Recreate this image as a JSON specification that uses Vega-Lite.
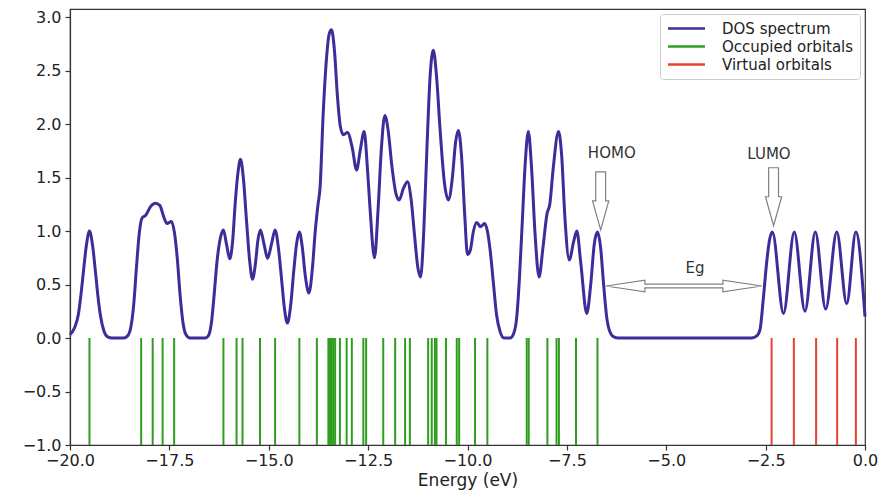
{
  "$schema": "https://vega.github.io/schema/vega-lite/v6.json",
  "width": 795,
  "height": 436,
  "autosize": "none",
  "padding": {"left": 70, "top": 9, "right": 15, "bottom": 45},
  "background": "white",
  "config": {
    "font": "DejaVu Sans",
    "view": {"stroke": "#333", "strokeWidth": 1.2},
    "axis": {
      "domainColor": "#333", "domainWidth": 1.2, "tickColor": "#333", "tickSize": 5, "tickWidth": 1.2,
      "labelFont": "DejaVu Sans", "labelFontSize": 16, "labelColor": "#222",
      "titleFont": "DejaVu Sans", "titleFontSize": 17, "titleFontWeight": "normal", "titleColor": "#222",
      "grid": false, "labelFlush": false, "labelOverlap": false
    },
    "legend": {"labelFont": "DejaVu Sans"}
  },
  "datasets": {
    "dos": [
      {"E": -20, "D": 0.03}, {"E": -19.88, "D": 0.1}, {"E": -19.79, "D": 0.22}, {"E": -19.72, "D": 0.42},
      {"E": -19.66, "D": 0.63}, {"E": -19.59, "D": 0.86}, {"E": -19.51, "D": 1.0}, {"E": -19.43, "D": 0.86},
      {"E": -19.36, "D": 0.62}, {"E": -19.3, "D": 0.4}, {"E": -19.23, "D": 0.2}, {"E": -19.15, "D": 0.07},
      {"E": -19.05, "D": 0.01}, {"E": -18.95, "D": 0.0}, {"E": -18.65, "D": 0.0}, {"E": -18.55, "D": 0.02},
      {"E": -18.47, "D": 0.1}, {"E": -18.4, "D": 0.3}, {"E": -18.33, "D": 0.65}, {"E": -18.26, "D": 0.97},
      {"E": -18.19, "D": 1.12}, {"E": -18.09, "D": 1.15}, {"E": -17.97, "D": 1.23}, {"E": -17.85, "D": 1.26},
      {"E": -17.74, "D": 1.24}, {"E": -17.64, "D": 1.13}, {"E": -17.56, "D": 1.07}, {"E": -17.45, "D": 1.09},
      {"E": -17.37, "D": 0.98}, {"E": -17.3, "D": 0.74}, {"E": -17.23, "D": 0.4}, {"E": -17.16, "D": 0.15},
      {"E": -17.08, "D": 0.03}, {"E": -16.98, "D": 0.0}, {"E": -16.6, "D": 0.0}, {"E": -16.52, "D": 0.02},
      {"E": -16.44, "D": 0.15}, {"E": -16.37, "D": 0.42}, {"E": -16.3, "D": 0.72}, {"E": -16.22, "D": 0.93},
      {"E": -16.14, "D": 1.01}, {"E": -16.06, "D": 0.87}, {"E": -15.98, "D": 0.74}, {"E": -15.91, "D": 0.9},
      {"E": -15.84, "D": 1.28}, {"E": -15.77, "D": 1.56}, {"E": -15.71, "D": 1.67}, {"E": -15.64, "D": 1.5},
      {"E": -15.56, "D": 1.1}, {"E": -15.48, "D": 0.72}, {"E": -15.41, "D": 0.55}, {"E": -15.34, "D": 0.68},
      {"E": -15.27, "D": 0.92}, {"E": -15.21, "D": 1.01}, {"E": -15.12, "D": 0.88}, {"E": -15.03, "D": 0.745},
      {"E": -14.93, "D": 0.88}, {"E": -14.84, "D": 1.01}, {"E": -14.75, "D": 0.82}, {"E": -14.67, "D": 0.52},
      {"E": -14.6, "D": 0.26}, {"E": -14.53, "D": 0.14}, {"E": -14.45, "D": 0.3}, {"E": -14.37, "D": 0.63},
      {"E": -14.3, "D": 0.88}, {"E": -14.23, "D": 0.99}, {"E": -14.16, "D": 0.86}, {"E": -14.08, "D": 0.58},
      {"E": -13.99, "D": 0.42}, {"E": -13.9, "D": 0.66}, {"E": -13.83, "D": 1.0}, {"E": -13.76, "D": 1.25},
      {"E": -13.71, "D": 1.4}, {"E": -13.63, "D": 2.1}, {"E": -13.55, "D": 2.6}, {"E": -13.48, "D": 2.84},
      {"E": -13.42, "D": 2.88}, {"E": -13.35, "D": 2.7}, {"E": -13.27, "D": 2.25}, {"E": -13.2, "D": 1.98},
      {"E": -13.12, "D": 1.9}, {"E": -13.02, "D": 1.92}, {"E": -12.9, "D": 1.78}, {"E": -12.79, "D": 1.57},
      {"E": -12.7, "D": 1.75}, {"E": -12.6, "D": 1.93}, {"E": -12.52, "D": 1.6}, {"E": -12.45, "D": 1.2},
      {"E": -12.34, "D": 0.75}, {"E": -12.25, "D": 1.2}, {"E": -12.17, "D": 1.75}, {"E": -12.08, "D": 2.08},
      {"E": -12.0, "D": 1.95}, {"E": -11.9, "D": 1.6}, {"E": -11.8, "D": 1.35}, {"E": -11.72, "D": 1.29},
      {"E": -11.61, "D": 1.4}, {"E": -11.51, "D": 1.46}, {"E": -11.42, "D": 1.3}, {"E": -11.33, "D": 0.95},
      {"E": -11.25, "D": 0.66}, {"E": -11.18, "D": 0.57}, {"E": -11.1, "D": 1.0}, {"E": -11.02, "D": 1.78},
      {"E": -10.94, "D": 2.45}, {"E": -10.86, "D": 2.69}, {"E": -10.78, "D": 2.45}, {"E": -10.69, "D": 1.95},
      {"E": -10.58, "D": 1.45}, {"E": -10.48, "D": 1.29}, {"E": -10.38, "D": 1.5}, {"E": -10.3, "D": 1.83},
      {"E": -10.23, "D": 1.94}, {"E": -10.15, "D": 1.7}, {"E": -10.07, "D": 1.15}, {"E": -10.0, "D": 0.78},
      {"E": -9.93, "D": 0.82}, {"E": -9.85, "D": 1.0}, {"E": -9.77, "D": 1.08}, {"E": -9.67, "D": 1.04},
      {"E": -9.57, "D": 1.07}, {"E": -9.5, "D": 1.0}, {"E": -9.43, "D": 0.82}, {"E": -9.35, "D": 0.52},
      {"E": -9.27, "D": 0.22}, {"E": -9.18, "D": 0.06}, {"E": -9.08, "D": 0.0}, {"E": -8.93, "D": 0.0},
      {"E": -8.84, "D": 0.04}, {"E": -8.76, "D": 0.2}, {"E": -8.69, "D": 0.58}, {"E": -8.62, "D": 1.1},
      {"E": -8.55, "D": 1.62}, {"E": -8.47, "D": 1.93}, {"E": -8.39, "D": 1.6}, {"E": -8.3, "D": 0.97},
      {"E": -8.2, "D": 0.57}, {"E": -8.1, "D": 0.85}, {"E": -8.0, "D": 1.16}, {"E": -7.93, "D": 1.25},
      {"E": -7.84, "D": 1.6}, {"E": -7.71, "D": 1.93}, {"E": -7.63, "D": 1.7}, {"E": -7.55, "D": 1.13},
      {"E": -7.44, "D": 0.73}, {"E": -7.33, "D": 0.9}, {"E": -7.25, "D": 1.0}, {"E": -7.15, "D": 0.7},
      {"E": -7.0, "D": 0.23}, {"E": -6.9, "D": 0.5}, {"E": -6.81, "D": 0.88}, {"E": -6.73, "D": 0.99},
      {"E": -6.65, "D": 0.84}, {"E": -6.58, "D": 0.52}, {"E": -6.5, "D": 0.2}, {"E": -6.42, "D": 0.06},
      {"E": -6.32, "D": 0.01}, {"E": -6.2, "D": 0.0}, {"E": -2.85, "D": 0.0}, {"E": -2.72, "D": 0.02},
      {"E": -2.64, "D": 0.08}, {"E": -2.56, "D": 0.36}, {"E": -2.47, "D": 0.72}, {"E": -2.4, "D": 0.92},
      {"E": -2.33, "D": 0.99}, {"E": -2.05, "D": 0.23}, {"E": -1.78, "D": 0.99}, {"E": -1.51, "D": 0.25},
      {"E": -1.25, "D": 0.99}, {"E": -0.99, "D": 0.27}, {"E": -0.71, "D": 0.99}, {"E": -0.46, "D": 0.32},
      {"E": -0.23, "D": 0.99}, {"E": 0, "D": 0.2}
    ],
    "orb": [
      {"E": -19.51, "series": "Occupied orbitals"}, {"E": -18.21, "series": "Occupied orbitals"},
      {"E": -17.92, "series": "Occupied orbitals"}, {"E": -17.67, "series": "Occupied orbitals"},
      {"E": -17.38, "series": "Occupied orbitals"}, {"E": -16.14, "series": "Occupied orbitals"},
      {"E": -15.81, "series": "Occupied orbitals"}, {"E": -15.66, "series": "Occupied orbitals"},
      {"E": -15.22, "series": "Occupied orbitals"}, {"E": -14.84, "series": "Occupied orbitals"},
      {"E": -14.23, "series": "Occupied orbitals"}, {"E": -13.79, "series": "Occupied orbitals"},
      {"E": -13.5, "series": "Occupied orbitals"}, {"E": -13.46, "series": "Occupied orbitals"},
      {"E": -13.42, "series": "Occupied orbitals"}, {"E": -13.38, "series": "Occupied orbitals"},
      {"E": -13.33, "series": "Occupied orbitals"}, {"E": -13.21, "series": "Occupied orbitals"},
      {"E": -13.04, "series": "Occupied orbitals"}, {"E": -12.91, "series": "Occupied orbitals"},
      {"E": -12.62, "series": "Occupied orbitals"}, {"E": -12.55, "series": "Occupied orbitals"},
      {"E": -12.12, "series": "Occupied orbitals"}, {"E": -11.82, "series": "Occupied orbitals"},
      {"E": -11.57, "series": "Occupied orbitals"}, {"E": -11.45, "series": "Occupied orbitals"},
      {"E": -10.99, "series": "Occupied orbitals"}, {"E": -10.9, "series": "Occupied orbitals"},
      {"E": -10.82, "series": "Occupied orbitals"}, {"E": -10.78, "series": "Occupied orbitals"},
      {"E": -10.54, "series": "Occupied orbitals"}, {"E": -10.27, "series": "Occupied orbitals"},
      {"E": -10.21, "series": "Occupied orbitals"}, {"E": -9.81, "series": "Occupied orbitals"},
      {"E": -9.5, "series": "Occupied orbitals"}, {"E": -8.51, "series": "Occupied orbitals"},
      {"E": -8.46, "series": "Occupied orbitals"}, {"E": -7.99, "series": "Occupied orbitals"},
      {"E": -7.76, "series": "Occupied orbitals"}, {"E": -7.7, "series": "Occupied orbitals"},
      {"E": -7.27, "series": "Occupied orbitals"}, {"E": -6.73, "series": "Occupied orbitals"},
      {"E": -2.35, "series": "Virtual orbitals"}, {"E": -1.79, "series": "Virtual orbitals"},
      {"E": -1.23, "series": "Virtual orbitals"}, {"E": -0.7, "series": "Virtual orbitals"},
      {"E": -0.23, "series": "Virtual orbitals"}
    ],
    "labels": [
      {"E": -6.37, "v": 1.726, "text": "HOMO"},
      {"E": -2.415, "v": 1.72, "text": "LUMO"},
      {"E": -4.277, "v": 0.65, "text": "Eg"}
    ],
    "downArrows": [
      {"E": -6.65, "v": 1.282, "name": "HOMO"},
      {"E": -2.3, "v": 1.32, "name": "LUMO"}
    ],
    "gapArrow": [
      {"E": -4.556, "v": 0.486, "name": "Eg"}
    ]
  },
  "layer": [
    {
      "data": {"name": "orb"},
      "mark": {"type": "rule", "strokeWidth": 2},
      "encoding": {
        "x": {
          "field": "E", "type": "quantitative",
          "scale": {"domain": [-20, 0], "nice": false, "zero": false},
          "axis": {"values": [-20, -17.5, -15, -12.5, -10, -7.5, -5, -2.5, 0], "format": ".1f", "title": "Energy (eV)", "labelPadding": 2, "titlePadding": 4}
        },
        "y": {
          "datum": 0, "type": "quantitative",
          "scale": {"domain": [-1, 3.075], "nice": false, "zero": false},
          "axis": {"values": [-1, -0.5, 0, 0.5, 1, 1.5, 2, 2.5, 3], "format": ".1f", "title": null, "labelPadding": 4}
        },
        "y2": {"datum": -1},
        "color": {
          "field": "series", "type": "nominal",
          "scale": {"domain": ["DOS spectrum", "Occupied orbitals", "Virtual orbitals"], "range": ["#3b2e9a", "#2f9e1f", "#e8412c"]},
          "legend": {
            "title": null, "orient": "top-right", "offset": 5, "symbolType": "M-2.64,0L2.64,0", "symbolSize": 196,
            "symbolOffset": 12, "symbolStrokeWidth": 2.5, "labelFontSize": 15, "labelColor": "#222", "labelOffset": 27,
            "strokeColor": "#cccccc", "fillColor": "white", "padding": 6, "rowPadding": 1, "cornerRadius": 3
          }
        }
      }
    },
    {
      "data": {"name": "dos"},
      "mark": {"type": "line", "interpolate": "monotone", "strokeWidth": 3},
      "encoding": {
        "x": {"field": "E", "type": "quantitative"},
        "y": {"field": "D", "type": "quantitative"},
        "color": {"datum": "DOS spectrum"}
      }
    },
    {
      "data": {"name": "downArrows"},
      "mark": {"type": "point", "shape": "M-0.17,-1L0.17,-1L0.17,0L0.28,0L0,1L-0.28,0L-0.17,0Z", "size": 3364, "filled": true, "fill": "white", "stroke": "#808080", "strokeWidth": 1.2, "opacity": 1},
      "encoding": {
        "x": {"field": "E", "type": "quantitative"},
        "y": {"field": "v", "type": "quantitative"}
      }
    },
    {
      "data": {"name": "gapArrow"},
      "mark": {"type": "point", "shape": "M-1,0L-0.5,-0.075L-0.5,-0.025L0.5,-0.025L0.5,-0.075L1,0L0.5,0.075L0.5,0.025L-0.5,0.025L-0.5,0.075Z", "size": 24336, "filled": true, "fill": "white", "stroke": "#808080", "strokeWidth": 1.2, "opacity": 1},
      "encoding": {
        "x": {"field": "E", "type": "quantitative"},
        "y": {"field": "v", "type": "quantitative"}
      }
    },
    {
      "data": {"name": "labels"},
      "mark": {"type": "text", "fontSize": 15, "color": "#333", "align": "center", "baseline": "middle", "font": "DejaVu Sans"},
      "encoding": {
        "x": {"field": "E", "type": "quantitative"},
        "y": {"field": "v", "type": "quantitative"},
        "text": {"field": "text"}
      }
    }
  ]
}
